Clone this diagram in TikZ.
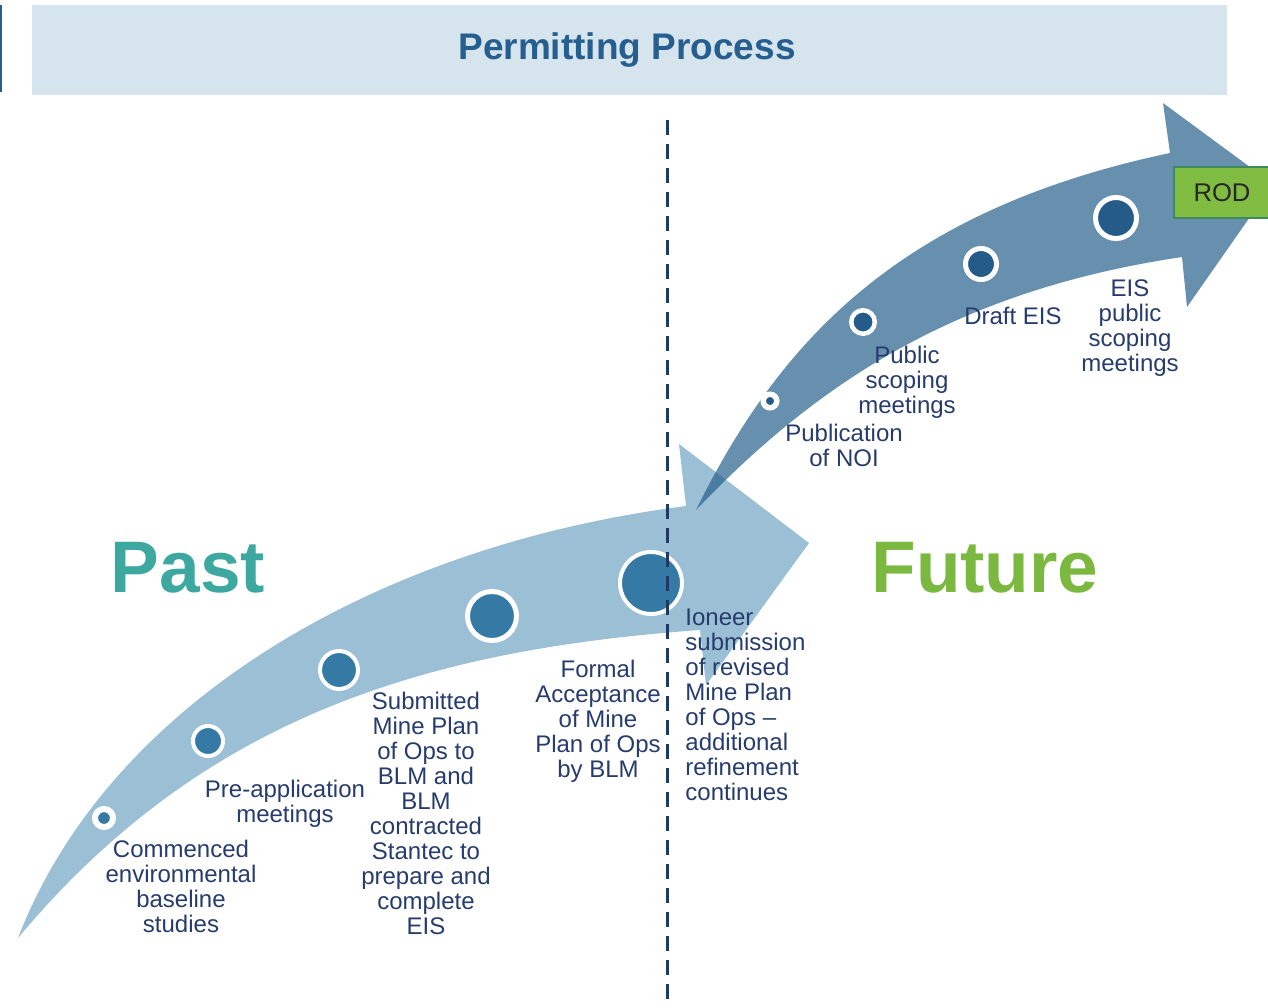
\documentclass[tikz,border=0pt]{standalone}
\usepackage{fontspec}
\setmainfont{Liberation Sans}
\usepackage{tikz}
\definecolor{bandblue}{HTML}{D6E4ED}
\definecolor{titleblue}{HTML}{255E8F}
\definecolor{pastarrow}{HTML}{9BBFD4}
\definecolor{pastdot}{HTML}{347AA5}
\definecolor{futurearrow}{RGB}{41,97,141}
\definecolor{futuredot}{HTML}{245B88}
\definecolor{pastteal}{HTML}{3DA8A0}
\definecolor{futuregreen}{HTML}{7AB840}
\definecolor{rodgreen}{HTML}{80BC41}
\definecolor{rodedge}{HTML}{3E8A5E}
\definecolor{labeltext}{HTML}{263C6C}
\definecolor{divider}{HTML}{1F3864}
\tikzset{
	milestone/.style={circle, inner sep=0pt, outer sep=0pt, draw=white},
	pastdotstyle/.style={milestone, fill=pastdot},
	futuredotstyle/.style={milestone, fill=futuredot},
	steplabel/.style={align=center, text=labeltext, font=\fontsize{12}{12.5}\selectfont, inner sep=0pt},
	bigword/.style={font=\fontsize{36.5}{40}\selectfont\bfseries, inner sep=0pt}
}

\begin{document}
\begin{tikzpicture}[x=0.5pt, y=-0.5pt]
	\useasboundingbox (0,0) rectangle (1268,1007);
	% title band
	\fill[bandblue] (32,5) rectangle (1227,95);
	\fill[titleblue] (0,5) rectangle (2,92);
	\node[font=\fontsize{18.5}{20}\selectfont\bfseries, text=titleblue] (title) at (627,50) {Permitting Process};
	% past arrow
	\fill[pastarrow] (18,938) .. controls (110,700) and (380,545) .. (686,506) -- (679,444) -- (809,543)
		-- (706,685) -- (700,630) .. controls (420,650) and (200,720) .. (18,938) -- cycle;
	\node[pastdotstyle, minimum size=9pt, line width=3pt] (p1) at (104,818) {};
	\node[pastdotstyle, minimum size=15pt, line width=2pt] (p2) at (208,741) {};
	\node[pastdotstyle, minimum size=19pt, line width=2pt] (p3) at (339,670) {};
	\node[pastdotstyle, minimum size=24.5pt, line width=2.5pt] (p4) at (492,616) {};
	\node[pastdotstyle, minimum size=31pt, line width=2pt] (p5) at (651,583) {};
	% today
	\coordinate (divtop) at (667,120);
	\coordinate (divbot) at (667,1000);
	\draw[divider, line width=1.5pt, dash pattern=on 7.5pt off 4.5pt] (divtop) -- (divbot);
	% future arrow
	\fill[futurearrow, fill opacity=0.71] (696,510) .. controls (780,340) and (900,210) .. (1170,153) -- (1163,103) -- (1273,184)
		-- (1187,307) -- (1182,257) .. controls (960,290) and (820,380) .. (696,510) -- cycle;
	\node[futuredotstyle, minimum size=6.75pt, line width=2.75pt] (f1) at (770,401) {};
	\node[futuredotstyle, minimum size=11.75pt, line width=2.25pt] (f2) at (863,322) {};
	\node[futuredotstyle, minimum size=15.5pt, line width=2.5pt] (f3) at (981,264) {};
	\node[futuredotstyle, minimum size=20.5pt, line width=2.5pt] (f4) at (1116,218) {};
	\node[draw=rodedge, fill=rodgreen, line width=1pt, minimum width=48pt, minimum height=25.5pt,
		font=\fontsize{12.8}{14}\selectfont, text=black!85] (rod) at (1222,192.5) {ROD};
	% headings
	\node[bigword, text=pastteal] (past) at (188,568) {Past};
	\node[bigword, text=futuregreen] (future) at (985,568) {Future};
	% milestones
	\node[steplabel] (commenced) at (181,886) {Commenced\\environmental\\baseline\\studies};
	\node[steplabel] (preapp) at (285,804) {Pre-application\\meetings};
	\node[steplabel] (submitted) at (426,813) {Submitted\\Mine Plan\\of Ops to\\BLM and\\BLM\\contracted\\Stantec to\\prepare and\\complete\\EIS};
	\node[steplabel] (formal) at (598,721) {Formal\\Acceptance\\of Mine\\Plan of Ops\\by BLM};
	\node[steplabel, align=left, anchor=west] (ioneer) at (685,705) {Ioneer\\submission\\of revised\\Mine Plan\\of Ops --\\additional\\refinement\\continues};
	\node[steplabel] (noi) at (844,445) {Publication\\of NOI};
	\node[steplabel] (scoping) at (907,382) {Public\\scoping\\meetings};
	\node[steplabel] (draft) at (1013,316) {Draft EIS};
	\node[steplabel] (eisscoping) at (1130,328) {EIS\\public\\scoping\\meetings};
\end{tikzpicture}
\end{document}
